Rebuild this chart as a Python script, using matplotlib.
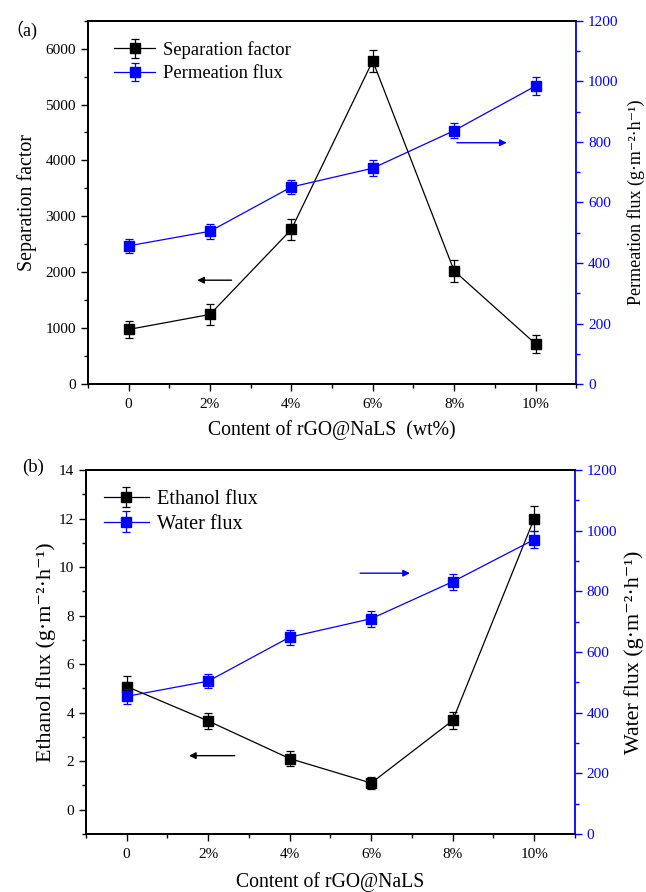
import matplotlib
matplotlib.use("Agg")
import matplotlib.pyplot as plt
from matplotlib.ticker import MultipleLocator

plt.rcParams['font.family'] = ['Liberation Serif', 'DejaVu Serif']
plt.rcParams['mathtext.fontset'] = 'stix'

categories = ["0", "2%", "4%", "6%", "8%", "10%"]

sep_factor = [982, 1250, 2768, 5779, 2029, 725]
sep_err = [150, 180, 190, 200, 200, 160]
perm_flux = [457, 505, 651, 713, 837, 984]
perm_err = [22, 25, 24, 26, 26, 30]

eth_flux = [5.08, 3.66, 2.11, 1.10, 3.68, 12.0]
eth_err = [0.45, 0.33, 0.32, 0.25, 0.36, 0.5]
water_flux = [454, 504, 649, 710, 832, 971]
water_err = [25, 22, 25, 27, 27, 29]

UNIT = '(g·m⁻²·h⁻¹)'
BLUE = '#0000ff'
x = list(range(len(categories)))

fig = plt.figure(figsize=(6.46, 8.92), dpi=100)

def style_axes(ax, ax2, lmaj, lmin, rmaj, rmin):
    ax.set_xlim(-0.5, 5.5)
    ax.set_xticks(x)
    ax.set_xticklabels(categories)
    ax.xaxis.set_minor_locator(MultipleLocator(0.5))
    ax.yaxis.set_major_locator(MultipleLocator(lmaj))
    ax.yaxis.set_minor_locator(MultipleLocator(lmin))
    ax2.yaxis.set_major_locator(MultipleLocator(rmaj))
    ax2.yaxis.set_minor_locator(MultipleLocator(rmin))
    ax.tick_params(which='both', direction='out', labelsize=11, width=1.0)
    ax.tick_params(which='major', length=5)
    ax.tick_params(which='minor', length=3)
    ax.tick_params(axis='x', pad=5)
    ax2.tick_params(which='both', direction='out', labelsize=11, colors=BLUE, width=1.0)
    ax2.tick_params(which='major', length=5)
    ax2.tick_params(which='minor', length=3)
    for s in ['left', 'bottom', 'top']:
        ax.spines[s].set_linewidth(1.3)
        ax2.spines[s].set_linewidth(1.3)
    ax2.spines['right'].set_color(BLUE)
    ax2.spines['right'].set_linewidth(1.3)
    ax.spines['right'].set_visible(False)

ekw = dict(marker='s', ms=6.5, lw=0.9, capsize=3, elinewidth=0.9, capthick=0.9)

# ---------- Panel (a) ----------
ax = fig.add_axes([0.136, 0.569, 0.756, 0.408])
ax2 = ax.twinx()
ax.set_ylim(0, 6500)
ax2.set_ylim(0, 1200)
l1 = ax.errorbar(x, sep_factor, yerr=sep_err, color='black', label='Separation factor', **ekw)
l2 = ax2.errorbar(x, perm_flux, yerr=perm_err, color=BLUE, label='Permeation flux', **ekw)
style_axes(ax, ax2, 1000, 500, 200, 100)
ax.set_ylabel('Separation factor', fontsize=14.4)
ax.yaxis.set_label_coords(-0.105, 0.5)
ax2.set_ylabel('Permeation flux ' + UNIT, fontsize=13, color='black')
ax2.yaxis.set_label_coords(1.105, 0.5)
ax.set_xlabel('Content of rGO@NaLS  (wt%)', fontsize=14.2, labelpad=6)
ax.annotate('', xy=(0.81, 1862), xytext=(1.30, 1862),
            arrowprops=dict(arrowstyle='-|>', color='black', lw=1.0, mutation_scale=10))
ax2.annotate('', xy=(4.68, 797), xytext=(4.0, 797),
             arrowprops=dict(arrowstyle='-|>', color=BLUE, lw=1.0, mutation_scale=10))
ax.legend([l1, l2], ['Separation factor', 'Permeation flux'], loc='upper left',
          bbox_to_anchor=(0.02, 0.99), frameon=False, fontsize=13.4,
          handlelength=2.2, handletextpad=0.4, labelspacing=0.35)
fig.text(0.008, 0.966, '（a)', fontsize=13, va='center',
         family=['Liberation Serif', 'Noto Sans CJK SC'])

# ---------- Panel (b) ----------
bx = fig.add_axes([0.133, 0.065, 0.757, 0.408])
bx2 = bx.twinx()
bx.set_ylim(-1, 14)
bx2.set_ylim(0, 1200)
m1 = bx.errorbar(x, eth_flux, yerr=eth_err, color='black', label='Ethanol flux', **ekw)
m2 = bx2.errorbar(x, water_flux, yerr=water_err, color=BLUE, label='Water flux', **ekw)
style_axes(bx, bx2, 2, 1, 200, 100)
bx.set_ylabel('Ethanol flux ' + UNIT, fontsize=15.8)
bx.yaxis.set_label_coords(-0.062, 0.5)
bx2.set_ylabel('Water flux ' + UNIT, fontsize=15.8, color='black')
bx2.yaxis.set_label_coords(1.1, 0.5)
bx.set_xlabel('Content of rGO@NaLS', fontsize=14.2, labelpad=8)
bx.annotate('', xy=(0.73, 2.23), xytext=(1.36, 2.23),
            arrowprops=dict(arrowstyle='-|>', color='black', lw=1.0, mutation_scale=10))
bx2.annotate('', xy=(3.51, 860), xytext=(2.83, 860),
             arrowprops=dict(arrowstyle='-|>', color=BLUE, lw=1.0, mutation_scale=10))
bx.legend([m1, m2], ['Ethanol flux', 'Water flux'], loc='upper left',
          bbox_to_anchor=(0.0, 0.995), frameon=False, fontsize=14.6,
          handlelength=2.2, handletextpad=0.4, labelspacing=0.25)
fig.text(0.035, 0.4765, '(b)', fontsize=13.5, va='center')

fig.savefig('out.png', dpi=100)
